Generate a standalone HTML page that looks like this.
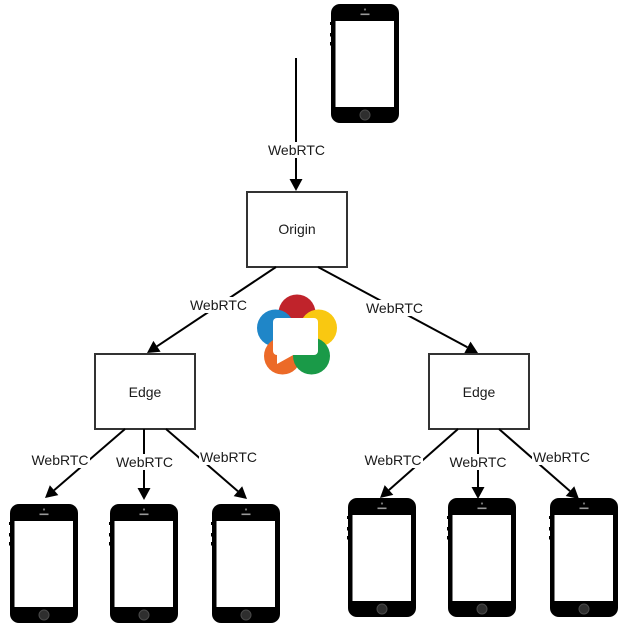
<!DOCTYPE html>
<html>
<head>
<meta charset="utf-8">
<style>
  html, body { margin: 0; padding: 0; background: #fff; }
  svg { display: block; }
  text { font-family: "Liberation Sans", Arial, sans-serif; font-size: 14px; fill: #1a1a1a; }
</style>
</head>
<body>
<svg width="628" height="630" viewBox="0 0 628 630" xmlns="http://www.w3.org/2000/svg">
  <defs>
    <g id="phone">
      <rect x="-1" y="18" width="2" height="3" fill="#000"/>
      <rect x="-1" y="29" width="2" height="3.5" fill="#000"/>
      <rect x="-1" y="38" width="2" height="3.5" fill="#000"/>
      <rect x="0" y="0" width="68" height="119" rx="9" ry="9" fill="#000"/>
      <rect x="4.5" y="17" width="58.5" height="86" fill="#fff"/>
      <circle cx="34" cy="5.5" r="1.1" fill="#777"/>
      <rect x="29.5" y="9.5" width="9" height="1.6" fill="#999"/>
      <circle cx="34" cy="111" r="5" fill="#2e2e2e" stroke="#4a4a4a" stroke-width="1"/>
    </g>
  </defs>

  <!-- Boxes -->
  <rect x="247" y="192" width="100" height="75" fill="#fff" stroke="#333" stroke-width="2"/>
  <rect x="95" y="354" width="100" height="75" fill="#fff" stroke="#333" stroke-width="2"/>
  <rect x="429" y="354" width="100" height="75" fill="#fff" stroke="#333" stroke-width="2"/>
  <text x="297" y="234" text-anchor="middle">Origin</text>
  <text x="145" y="397" text-anchor="middle">Edge</text>
  <text x="479" y="397" text-anchor="middle">Edge</text>

  <!-- Connectors -->
  <g stroke="#000" stroke-width="2" fill="none">
    <line x1="296" y1="58" x2="296" y2="180"/>
    <line x1="276" y1="267" x2="157" y2="346.3"/>
    <line x1="318" y1="267" x2="467.4" y2="347.3"/>
    <line x1="125" y1="429" x2="54.1" y2="490.2"/>
    <line x1="144" y1="429" x2="144" y2="489"/>
    <line x1="166" y1="429" x2="237.9" y2="491.2"/>
    <line x1="458" y1="429" x2="389" y2="490"/>
    <line x1="478" y1="429" x2="478" y2="488"/>
    <line x1="499" y1="429" x2="570" y2="491.1"/>
  </g>
  <g fill="#000">
    <polygon points="296,191 289.5,179 302.5,179"/>
    <polygon points="147,353 160.6,351.75 153.4,340.9"/>
    <polygon points="478,353 464.35,353.05 470.51,341.59"/>
    <polygon points="45,498 58.34,495.08 49.84,485.24"/>
    <polygon points="144,500 137.5,488 150.5,488"/>
    <polygon points="247,499 233.67,496.07 242.17,486.23"/>
    <polygon points="380,498 393.3,494.92 384.68,485.18"/>
    <polygon points="478,499 471.5,487 484.5,487"/>
    <polygon points="579,499 565.69,495.99 574.26,486.21"/>
  </g>

  <!-- Labels -->
  <g fill="#fff">
    <rect x="267" y="142" width="59" height="16"/>
    <rect x="189" y="297" width="59" height="16"/>
    <rect x="365" y="300" width="59" height="16"/>
    <rect x="31" y="452" width="59" height="16"/>
    <rect x="115" y="454" width="59" height="16"/>
    <rect x="199" y="449" width="59" height="16"/>
    <rect x="364" y="452" width="59" height="16"/>
    <rect x="449" y="454" width="59" height="16"/>
    <rect x="532" y="449" width="59" height="16"/>
  </g>
  <text x="296.5" y="155" text-anchor="middle">WebRTC</text>
  <text x="218.5" y="310" text-anchor="middle">WebRTC</text>
  <text x="394.5" y="313" text-anchor="middle">WebRTC</text>
  <text x="60" y="465" text-anchor="middle">WebRTC</text>
  <text x="144.5" y="467" text-anchor="middle">WebRTC</text>
  <text x="228.5" y="462" text-anchor="middle">WebRTC</text>
  <text x="393" y="465" text-anchor="middle">WebRTC</text>
  <text x="478" y="467" text-anchor="middle">WebRTC</text>
  <text x="561.5" y="462" text-anchor="middle">WebRTC</text>

  <!-- WebRTC logo -->
  <g>
    <circle cx="297" cy="313" r="18.5" fill="#c0232b"/>
    <circle cx="275.5" cy="328" r="18.5" fill="#1f86c8"/>
    <circle cx="318.5" cy="328" r="18.5" fill="#f9c811"/>
    <circle cx="282.5" cy="356" r="18.5" fill="#ec6a28"/>
    <circle cx="311.5" cy="356" r="18.5" fill="#1a9a48"/>
    <path d="M297,313 m-18.5,0 a18.5,18.5 0 0 1 37,0 z" fill="#c0232b" opacity="0.0"/>
    <rect x="273" y="318" width="45" height="37" rx="4" ry="4" fill="#fff"/>
    <polygon points="277,350 277,364 295,354" fill="#fff"/>
  </g>

  <!-- Phones -->
  <use href="#phone" x="331" y="4"/>
  <use href="#phone" x="10" y="504"/>
  <use href="#phone" x="110" y="504"/>
  <use href="#phone" x="212" y="504"/>
  <use href="#phone" x="348" y="498"/>
  <use href="#phone" x="448" y="498"/>
  <use href="#phone" x="550" y="498"/>
</svg>
</body>
</html>
